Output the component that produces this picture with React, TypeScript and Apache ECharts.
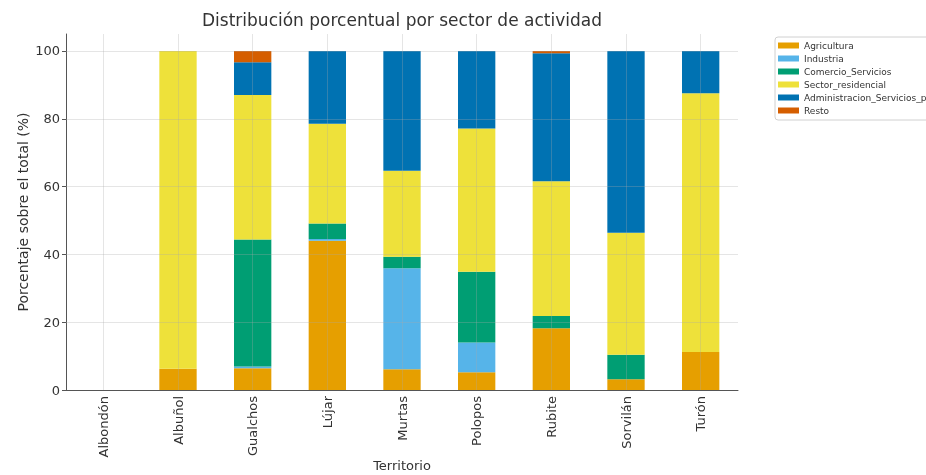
import React, { useEffect, useRef } from 'react';
import * as echarts from 'echarts';

const territories = ['Albondón', 'Albuñol', 'Gualchos', 'Lújar', 'Murtas', 'Polopos', 'Rubite', 'Sorvilán', 'Turón'];
const agricultura = [0, 6.3, 6.4, 44.0, 6.1, 5.2, 18.2, 3.2, 11.2];
const industria = [0, 0, 0.5, 0.5, 29.8, 8.8, 0, 0, 0];
const comercio = [0, 0, 37.5, 4.6, 3.4, 20.9, 3.6, 7.2, 0];
const residencial = [0, 93.7, 42.6, 29.4, 25.4, 42.2, 39.8, 36.0, 76.3];
const administracion = [0, 0, 9.7, 21.5, 35.3, 22.9, 37.7, 53.6, 12.5];
const resto = [0, 0, 3.3, 0, 0, 0, 0.7, 0, 0];
const yTicks = [0, 20, 40, 60, 80, 100];

const seriesNames = [
  'Agricultura',
  'Industria',
  'Comercio_Servicios',
  'Sector_residencial',
  'Administracion_Servicios_publicos',
  'Resto',
];
const seriesData = [agricultura, industria, comercio, residencial, administracion, resto];
const colors = ['#E69F00', '#56B4E9', '#009E73', '#EEE13A', '#0072B2', '#D55E00'];

const FONT = 'DejaVu Sans';

export default function App() {
  const ref = useRef<HTMLDivElement>(null);
  useEffect(() => {
    if (!ref.current) return;
    const chart = echarts.init(ref.current, undefined, { renderer: 'svg' });
    const gridLine = { color: 'rgba(170,170,170,0.3)', width: 1, type: 'solid' as const };
    const series: any[] = seriesNames.map((name, i) => ({
      name,
      type: 'bar',
      stack: 'total',
      barWidth: '50%',
      itemStyle: { color: colors[i] },
      data: seriesData[i],
    }));
    series.push({
      name: 'grid',
      type: 'line',
      data: [],
      silent: true,
      markLine: {
        silent: true,
        symbol: 'none',
        label: { show: false },
        lineStyle: gridLine,
        emphasis: { disabled: true },
        data: [
          ...territories.map((t) => ({ xAxis: t })),
          ...yTicks.filter((v) => v > 0).map((v) => ({ yAxis: v })),
        ],
      },
    });
    chart.setOption({
      animation: false,
      textStyle: { fontFamily: FONT },
      graphic: [
        {
          type: 'text',
          x: 402,
          y: 11,
          style: {
            text: 'Distribución porcentual por sector de actividad',
            align: 'center',
            verticalAlign: 'top',
            fontSize: 17,
            fontFamily: FONT,
            fill: '#333',
          },
        },
      ],
      legend: {
        orient: 'vertical',
        left: 775,
        top: 37,
        padding: [4, 6, 5, 3],
        itemWidth: 21,
        itemHeight: 6,
        itemGap: 4,
        icon: 'rect',
        backgroundColor: '#fff',
        borderColor: '#d0d0d0',
        borderWidth: 1,
        borderRadius: 3,
        textStyle: { fontSize: 9, color: '#333', fontFamily: FONT },
        data: seriesNames,
      },
      grid: { left: 66, right: 188, top: 34, bottom: 85, containLabel: false, outerBoundsMode: 'none' },
      xAxis: {
        type: 'category',
        data: territories,
        name: 'Territorio',
        nameLocation: 'middle',
        nameGap: 69,
        nameMoveOverlap: false,
        nameTextStyle: { fontSize: 13, color: '#333', fontFamily: FONT },
        axisLine: { lineStyle: { color: '#555', width: 1 } },
        axisTick: { alignWithLabel: true, length: 4, lineStyle: { color: '#555' } },
        axisLabel: { rotate: 90, fontSize: 13, color: '#333', margin: 6, fontFamily: FONT },
        splitLine: { show: false },
      },
      yAxis: {
        type: 'value',
        min: 0,
        max: 105,
        interval: 20,
        name: 'Porcentaje sobre el total (%)',
        nameLocation: 'middle',
        nameGap: 36,
        nameMoveOverlap: false,
        nameTextStyle: { fontSize: 14, color: '#333', fontFamily: FONT },
        axisLine: { show: true, lineStyle: { color: '#555', width: 1 } },
        axisTick: { show: true, length: 4, lineStyle: { color: '#555' }, customValues: yTicks },
        axisLabel: { fontSize: 13, color: '#333', margin: 6, fontFamily: FONT, customValues: yTicks },
        splitLine: { show: false },
      },
      series,
    });
    return () => chart.dispose();
  }, []);
  return <div ref={ref} style={{ position: 'fixed', left: 0, top: 0, width: 926, height: 475 }} />;
}
